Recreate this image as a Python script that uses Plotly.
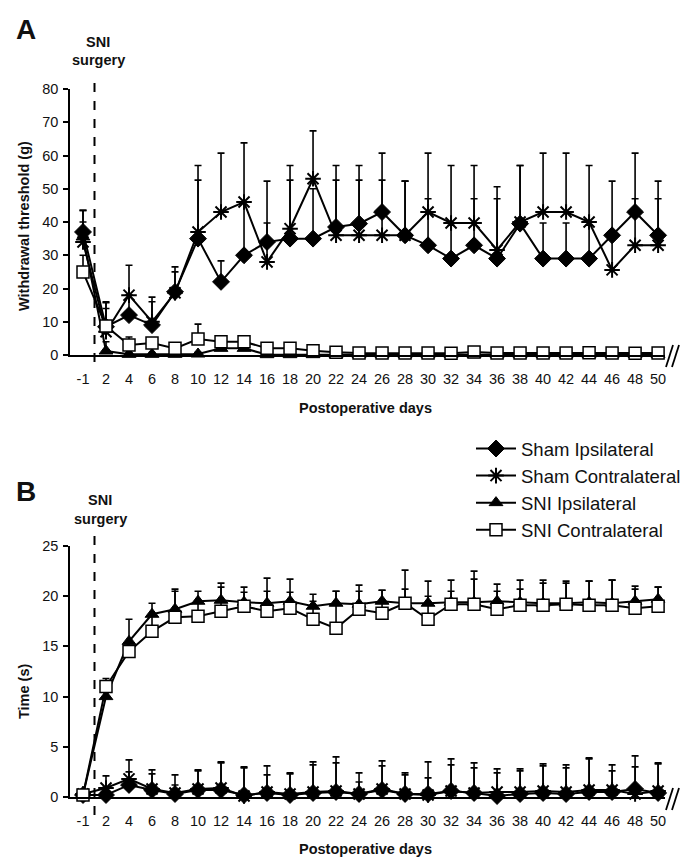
import plotly.graph_objects as go

# ---------------- data ----------------
days = ["-1", "2", "4", "6", "8", "10", "12", "14", "16", "18", "20", "22", "24",
        "26", "28", "30", "32", "34", "36", "38", "40", "42", "44", "46", "48", "50"]

# Panel A: withdrawal threshold (g), mean and upper SEM
a_sham_ipsi = [37, 8.5, 12, 9, 19, 35, 22, 30, 34, 35, 35, 38.5, 39.5, 43, 36, 33,
               29, 33, 29, 39.5, 29, 29, 29, 36, 43, 36]
a_sham_ipsi_err = [6.5, 7.5, 6, 8.4, 7.5, 17.6, 6.3, 16, 18.3, 17.6, 15, 18.5, 17.5,
                   17.7, 16.3, 14, 10, 14, 18, 17.5, 10.7, 10.7, 10, 16.3, 17.7, 16.3]
a_sham_contra = [34, 7, 18, 10, 18.7, 37, 43, 46, 28, 38, 53, 36, 36, 36, 36, 43,
                 39.7, 39.7, 31.6, 40, 43, 43, 40, 25.6, 33, 33]
a_sham_contra_err = [6, 7, 9, 6, 6.3, 20, 17.7, 17.8, 11.7, 19, 14.4, 16.6, 16.6, 16.6,
                     16.3, 17.7, 17.3, 17.3, 19, 17, 17.7, 17.7, 17, 10, 14, 14]
a_sni_ipsi = [35.5, 1.2, 0.2, 0.2, 0.2, 0.3, 2, 2, 0.1, 0.1, 0.1, 0.1, 0.1, 0.1,
              0.1, 0.1, 0.1, 0.1, 0.1, 0.1, 0.1, 0.1, 0.1, 0.1, 0.1, 0.1]
a_sni_ipsi_err = [8, 2.8, 0.5, 0.5, 0.5, 0.5, 1, 1, 0.3, 0.3, 0.3, 0.3, 0.3, 0.3,
                  0.3, 0.3, 0.3, 0.3, 0.3, 0.3, 0.3, 0.3, 0.3, 0.3, 0.3, 0.3]
a_sni_contra = [25, 8.7, 3, 3.6, 2, 4.8, 4, 4, 2, 2, 1.3, 0.8, 0.6, 0.6, 0.6, 0.6,
                0.5, 0.9, 0.6, 0.6, 0.6, 0.6, 0.7, 0.6, 0.5, 0.6]
a_sni_contra_err = [5, 7, 2.4, 1.5, 0.8, 4.5, 1, 1, 0.8, 1.5, 0.8, 0.4, 0.3, 0.3,
                    0.3, 0.3, 0.3, 0.3, 0.3, 0.3, 0.3, 0.3, 0.3, 0.3, 0.3, 0.3]

# Panel B: time (s), mean and upper SEM
b_sham_ipsi = [0.2, 0.2, 1.2, 0.7, 0.3, 0.7, 0.7, 0.2, 0.4, 0.2, 0.4, 0.5, 0.3,
               0.7, 0.3, 0.3, 0.6, 0.4, 0.1, 0.3, 0.4, 0.3, 0.5, 0.5, 0.8, 0.4]
b_sham_ipsi_err = [0.2, 0.8, 1.3, 1.6, 0.9, 1.9, 2.7, 2.7, 1.8, 2.1, 2.8, 2.9, 1.2,
                   2.4, 1.9, 1.6, 2.6, 2.5, 2.3, 2.3, 2.7, 2.6, 3.3, 2.1, 2.2, 2.9]
b_sham_contra = [0.3, 0.9, 1.8, 0.8, 0.4, 0.8, 0.9, 0.1, 0.5, 0.3, 0.5, 0.6, 0.3,
                 0.8, 0.3, 0.2, 0.6, 0.4, 0.5, 0.5, 0.6, 0.5, 0.7, 0.7, 0.3, 0.6]
b_sham_contra_err = [0.2, 1.2, 1.9, 1.9, 1.8, 1.9, 2.6, 2.9, 2.6, 2.1, 3.0, 3.4, 2.1,
                     2.8, 2.1, 3.3, 3.2, 3.0, 2.3, 2.3, 2.7, 2.7, 3.2, 2.5, 3.8, 2.8]
b_sni_ipsi = [0.2, 10, 15.5, 18.2, 18.7, 19.5, 19.6, 19.4, 19.3, 19.5, 19, 19.3, 19.2,
              19.5, 19.3, 19.3, 19.4, 19.4, 19.5, 19.4, 19.3, 19.3, 19.4, 19.3, 19.5, 19.7]
b_sni_ipsi_err = [0.3, 1.5, 2.2, 1.1, 2.0, 1.0, 1.7, 1.5, 2.5, 2.2, 1.2, 1.2, 1.3,
                  1.1, 1.4, 0.7, 1.1, 2.3, 1.0, 1.3, 2.0, 2.0, 2.1, 2.3, 1.2, 1.2]
b_sni_contra = [0.2, 11, 14.5, 16.5, 17.9, 18, 18.5, 19, 18.5, 18.8, 17.7, 16.8, 18.7,
                18.3, 19.3, 17.7, 19.2, 19.2, 18.7, 19.1, 19.1, 19.2, 19.1, 19.1, 18.8, 19]
b_sni_contra_err = [0.3, 0.8, 1.0, 1.5, 2.6, 1.5, 2.4, 1.4, 2.0, 1.6, 1.8, 3.7, 2.4,
                    2.3, 3.3, 3.8, 2.4, 3.3, 2.5, 2.5, 2.5, 2.3, 2.4, 2.5, 2.2, 1.9]

series_names = ["Sham Ipsilateral", "Sham Contralateral", "SNI Ipsilateral", "SNI Contralateral"]

# ---------------- geometry helpers ----------------
W, H = 683, 857
FONT = "Liberation Sans, Arial, Helvetica, sans-serif"


def fx(px):
    return px / W


def fy(py):
    return 1 - py / H


styles = [
    dict(symbol="diamond", size=13, color="black", line=dict(color="black", width=1)),
    dict(symbol="asterisk-open", size=13, color="black", line=dict(color="black", width=2)),
    dict(symbol="triangle-up", size=12, color="black", line=dict(color="black", width=1)),
    dict(symbol="square", size=12, color="white", line=dict(color="black", width=1.5)),
]

fig = go.Figure()


def add_series(x_ax, y_ax, values, errors, idx, show):
    fig.add_trace(go.Scatter(
        x=days, y=values, xaxis=x_ax, yaxis=y_ax,
        mode="lines+markers", name=series_names[idx],
        legendgroup=series_names[idx], showlegend=show,
        line=dict(color="black", width=2),
        marker=styles[idx],
        error_y=dict(type="data", symmetric=False, array=errors,
                     arrayminus=[0] * len(errors), color="black",
                     thickness=1.6, width=3.5),
        cliponaxis=False,
    ))


panel_a = [(a_sham_ipsi, a_sham_ipsi_err), (a_sham_contra, a_sham_contra_err),
           (a_sni_ipsi, a_sni_ipsi_err), (a_sni_contra, a_sni_contra_err)]
panel_b = [(b_sham_ipsi, b_sham_ipsi_err), (b_sham_contra, b_sham_contra_err),
           (b_sni_ipsi, b_sni_ipsi_err), (b_sni_contra, b_sni_contra_err)]

for i, (v, e) in enumerate(panel_a):
    add_series("x", "y", v, e, i, True)
for i, (v, e) in enumerate(panel_b):
    add_series("x2", "y2", v, e, i, False)

x_dom = [fx(70), fx(665)]
x_range = [-0.565, 25.3]

xaxis_common = dict(
    type="category", categoryorder="array", categoryarray=days,
    range=x_range, domain=x_dom, showline=True, linecolor="black", linewidth=1.5,
    ticks="", showgrid=False, zeroline=False,
    tickfont=dict(family=FONT, size=14.5, color="#111"), ticklabelstandoff=10,
)
yaxis_common = dict(
    showline=True, linecolor="black", linewidth=1.5, ticks="outside", ticklen=5,
    tickwidth=1.5, tickcolor="black", showgrid=False, zeroline=False,
    tickfont=dict(family=FONT, size=14.5, color="#111"), ticklabelstandoff=2,
)

fig.update_layout(
    width=W, height=H, margin=dict(l=0, r=0, t=0, b=0, autoexpand=False),
    paper_bgcolor="white", plot_bgcolor="white",
    showlegend=True,
    xaxis=dict(xaxis_common, anchor="y"),
    yaxis=dict(yaxis_common, range=[0, 80], dtick=10, domain=[fy(355), fy(89)], anchor="x"),
    xaxis2=dict(xaxis_common, anchor="y2"),
    yaxis2=dict(yaxis_common, range=[0, 25], dtick=5, domain=[fy(797), fy(546)], anchor="x2"),
    legend=dict(x=fx(471), y=fy(430), xanchor="left", yanchor="top",
                font=dict(family=FONT, size=18.5, color="#111"),
                traceorder="grouped", tracegroupgap=0, itemwidth=40,
                bgcolor="rgba(0,0,0,0)"),
)

# surgery marker lines
shapes = [
    dict(type="line", xref="x", yref="paper", x0=0.5, x1=0.5, y0=fy(362), y1=fy(77),
         line=dict(color="black", width=2, dash="dash")),
    dict(type="line", xref="x2", yref="paper", x0=0.5, x1=0.5, y0=fy(815), y1=fy(535),
         line=dict(color="black", width=2, dash="dash")),
]
# axis break marks
for base in (356, 799):
    for dx in (0, 6):
        shapes.append(dict(type="line", xref="paper", yref="paper",
                           x0=fx(666 + dx), x1=fx(673 + dx),
                           y0=fy(base + 11), y1=fy(base - 11),
                           line=dict(color="black", width=1.8)))
fig.update_layout(shapes=shapes)

annotations = []


def label(text, x, y, size, bold=False, angle=0):
    annotations.append(dict(
        text=f"<b>{text}</b>" if bold else text, x=fx(x), y=fy(y),
        xref="paper", yref="paper", showarrow=False, textangle=angle,
        xanchor="center", yanchor="middle",
        font=dict(family=FONT, size=size, color="#111")))


label("A", 26, 30, 28, bold=True)
label("B", 26, 491, 28, bold=True)
label("SNI", 98, 42, 14.5, bold=True)
label("surgery", 98, 60, 14.5, bold=True)
label("SNI", 100, 500, 14.5, bold=True)
label("surgery", 100, 519, 14.5, bold=True)
label("Withdrawal threshold (g)", 24, 226, 14.5, bold=True, angle=-90)
label("Time (s)", 24, 691, 14.5, bold=True, angle=-90)
label("Postoperative days", 365, 408, 14.5, bold=True)
label("Postoperative days", 365, 849, 14.5, bold=True)
fig.update_layout(annotations=annotations)

fig.write_html("out.html")
